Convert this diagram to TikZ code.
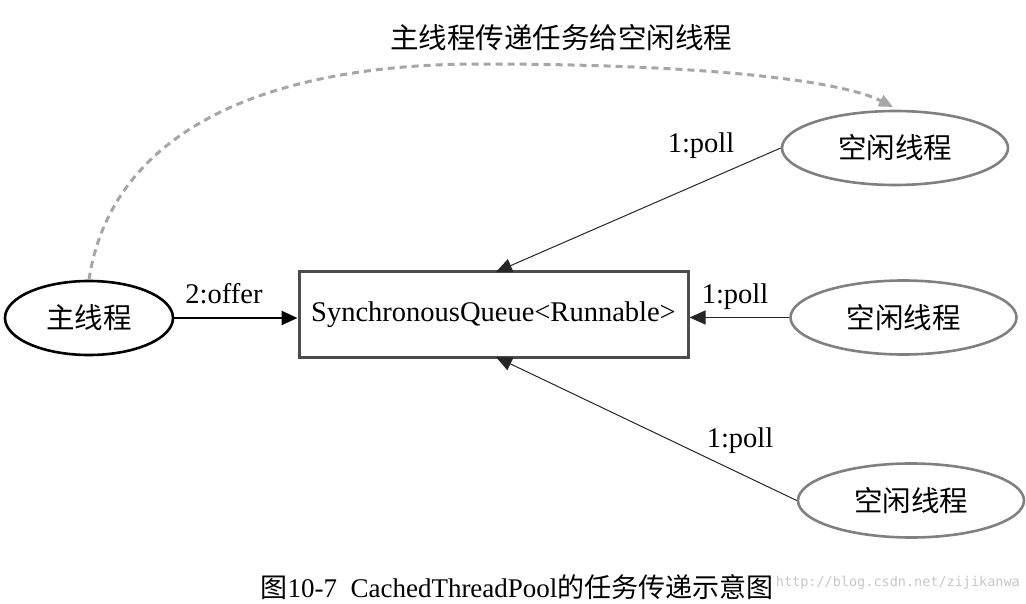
\documentclass[tikz,border=0pt]{standalone}
\usepackage{fontspec}
\setmainfont{Liberation Serif}
\newfontfamily\cjk{Noto Sans CJK SC}
\setmonofont{DejaVu Sans Mono}
\usetikzlibrary{arrows.meta,shapes.geometric}
\begin{document}
\begin{tikzpicture}[x=1pt,y=-1pt,
  lbl/.style={font=\fontsize{28.5}{30}\selectfont, inner sep=0pt},
  cj/.style={font=\cjk\fontsize{28.5}{30}\selectfont, inner sep=0pt},
  mainell/.style={draw=black, line width=2.6pt, ellipse, minimum width=168pt, minimum height=74pt, inner sep=0pt, font=\cjk\fontsize{28.5}{30}\selectfont},
  idleell/.style={draw=black!50, line width=2.6pt, ellipse, minimum width=226pt, minimum height=74pt, inner sep=0pt, font=\cjk\fontsize{28.5}{30}\selectfont},
  qbox/.style={draw=black!70, line width=3pt, rectangle, minimum width=389pt, minimum height=85pt, inner sep=0pt, font=\fontsize{28.5}{30}\selectfont},
  thin/.style={draw=black!85, line width=1pt, -{Triangle[length=16pt,width=14pt]}},
  thick/.style={draw=black, line width=2.6pt, -{Triangle[length=16pt,width=14pt]}},
  dashcurve/.style={draw=black!35, line width=3pt, dash pattern=on 7pt off 5pt, -{Triangle[length=14pt,width=12pt]}}
]
\useasboundingbox (0,0) rectangle (1026,604);
\fill[white] (0,0) rectangle (1026,604);

\node[cj] (title) at (561,38) {主线程传递任务给空闲线程};

\node[mainell] (main) at (89,318) {主线程};
\node[qbox] (q) at (493.5,314.5) {SynchronousQueue<Runnable>};
\node[idleell] (i1) at (895,148) {空闲线程};
\node[idleell] (i2) at (903.5,317.5) {空闲线程};
\node[idleell] (i3) at (911,500.5) {空闲线程};

\coordinate (qtop) at (496,272);
\coordinate (qbot) at (496,357);
\coordinate (peak) at (480,64);
\coordinate (i1top) at (893,107);

\draw[thick] (main.east) -- (main.east -| q.west);
\draw[thin] (i1.west) -- (qtop);
\draw[thin] (i2.west) -- (i2.west -| q.east);
\draw[thin] (i3.west) -- (qbot);

\draw[dashcurve] (main.north) .. controls (110,140) and (250,64) .. (peak)
  .. controls (700,64) and (840,80) .. (i1top);

\node[lbl] (l0) at (224,294) {2:offer};
\node[lbl] (l1) at (701,146) {1:poll};
\node[lbl] (l2) at (735,297) {1:poll};
\node[lbl] (l3) at (740,441) {1:poll};

\node[fill=white, inner sep=0pt, font=\fontsize{27}{28}\selectfont] (cap) at (517,587) {{\cjk 图}10-7\ \ CachedThreadPool{\cjk 的任务传递示意图}};
\node[font=\ttfamily\fontsize{13.5}{15}\selectfont, text=black!22, anchor=east, inner sep=0pt] (wm) at (1020,583) {http://blog.csdn.net/zijikanwa};
\end{tikzpicture}
\end{document}
